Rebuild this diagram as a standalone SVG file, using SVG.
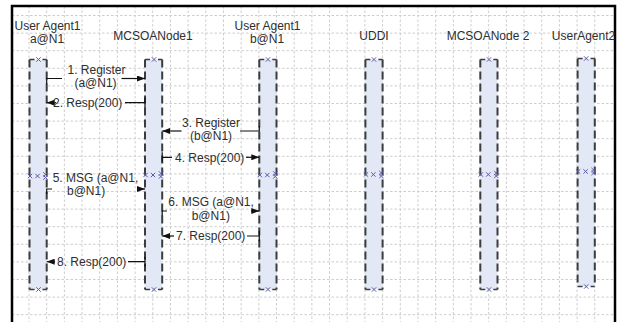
<svg xmlns="http://www.w3.org/2000/svg" width="618" height="322" viewBox="0 0 618 322">
<style>
.grid{stroke:#cdcdcd;stroke-width:1;stroke-dasharray:2.5 2;fill:none}
.fill{fill:#e2e8f6;stroke:none}
.lb{stroke:#3c3c3c;stroke-width:2;stroke-dasharray:8 4;fill:none}
.cap{stroke:#3c3c3c;stroke-width:1.5;fill:none}
.xm{stroke:#5a5aa8;stroke-width:1;fill:none}
.msg{stroke:#111;stroke-width:1.2;fill:none}
.arr{stroke:#111;stroke-width:1.2;fill:none;marker-end:url(#ah)}
text{font-family:"Liberation Sans",Arial,sans-serif;font-size:12px;fill:#2e2e2e}
.c{text-anchor:middle}
</style>
<defs>
<marker id="ah" viewBox="0 0 8 6" refX="8" refY="3" markerWidth="8" markerHeight="6" markerUnits="userSpaceOnUse" orient="auto">
<path d="M0,0 L8,3 L0,6 z" fill="#111"/>
</marker>
<path id="x" class="xm" d="M-2.2,-2.2 L2.2,2.2 M-2.2,2.2 L2.2,-2.2"/>
<g id="xx"><use href="#x" y="-1.5"/><use href="#x" y="1.5"/></g>
</defs>
<rect x="0" y="0" width="618" height="322" fill="#fff"/>
<g id="grid">
<path class="grid" d="M29,6V322M46.68,6V322M64.36,6V322M82.04,6V322M99.72,6V322M117.4,6V322M135.08,6V322M152.76,6V322M170.44,6V322M188.12,6V322M205.8,6V322M223.48,6V322M241.16,6V322M258.84,6V322M276.52,6V322M294.2,6V322M311.88,6V322M329.56,6V322M347.24,6V322M364.92,6V322M382.6,6V322M400.28,6V322M417.96,6V322M435.64,6V322M453.32,6V322M471,6V322M488.68,6V322M506.36,6V322M524.04,6V322M541.72,6V322M559.4,6V322M577.08,6V322M594.76,6V322"/>
<path class="grid" d="M12,15.5H615M12,33.1H615M12,50.7H615M12,68.3H615M12,85.9H615M12,103.5H615M12,121.1H615M12,138.7H615M12,156.3H615M12,173.9H615M12,191.5H615M12,209.1H615M12,226.7H615M12,244.3H615M12,261.9H615M12,279.5H615M12,297.1H615M12,314.7H615"/>
</g>
<rect x="12" y="6" width="603" height="330" fill="none" stroke="#000" stroke-width="2.5"/>

<g id="ua1">
<rect class="fill" x="29" y="59.5" width="17.7" height="230"/>
<path class="lb" d="M29.5,59.5V289.5M46.7,59.5V289.5"/>
<path class="cap" d="M29.5,59.5H34.5M42.5,59.5H46.7M29.5,289.5H34.5M42.5,289.5H46.7"/>
<use href="#x" x="38.5" y="59.5"/><use href="#x" x="38.5" y="289.5"/>
<use href="#x" x="30" y="176"/><use href="#x" x="37.5" y="176"/><use href="#xx" x="45.5" y="176"/>
<text class="c" x="47.5" y="29.5">User Agent1</text>
<text class="c" x="47" y="43">a@N1</text>
</g>

<g id="mcsoa1">
<rect class="fill" x="144.5" y="59.5" width="17.7" height="230"/>
<path class="lb" d="M145,59.5V289.5M162.2,59.5V289.5"/>
<path class="cap" d="M145,59.5H150M158,59.5H162.2M145,289.5H150M158,289.5H162.2"/>
<use href="#x" x="154" y="59.5"/><use href="#x" x="154" y="289.5"/>
<use href="#x" x="145.5" y="175"/><use href="#x" x="153" y="175"/><use href="#xx" x="161" y="175"/>
<text class="c" x="153" y="39.5">MCSOANode1</text>
</g>

<g id="uab">
<rect class="fill" x="258.8" y="59.5" width="17.7" height="230"/>
<path class="lb" d="M259.3,59.5V289.5M276.5,59.5V289.5"/>
<path class="cap" d="M259.3,59.5H264.3M272.3,59.5H276.5M259.3,289.5H264.3M272.3,289.5H276.5"/>
<use href="#x" x="268" y="59.5"/><use href="#x" x="268" y="289.5"/>
<use href="#x" x="259.8" y="175"/><use href="#x" x="267.3" y="175"/><use href="#xx" x="275.3" y="175"/>
<text class="c" x="267.5" y="29.5">User Agent1</text>
<text class="c" x="267" y="43">b@N1</text>
</g>

<g id="uddi">
<rect class="fill" x="364.9" y="59.5" width="17.7" height="230"/>
<path class="lb" d="M365.4,59.5V289.5M382.6,59.5V289.5"/>
<path class="cap" d="M365.4,59.5H370.4M378.4,59.5H382.6M365.4,289.5H370.4M378.4,289.5H382.6"/>
<use href="#x" x="374" y="59.5"/><use href="#x" x="374" y="289.5"/>
<use href="#x" x="365.9" y="174.5"/><use href="#x" x="373.4" y="174.5"/><use href="#xx" x="381.4" y="174.5"/>
<text class="c" x="374" y="39.5">UDDI</text>
</g>

<g id="mcsoa2">
<rect class="fill" x="479.8" y="59.5" width="17.7" height="230"/>
<path class="lb" d="M480.3,59.5V289.5M497.5,59.5V289.5"/>
<path class="cap" d="M480.3,59.5H485.3M493.3,59.5H497.5M480.3,289.5H485.3M493.3,289.5H497.5"/>
<use href="#x" x="489" y="59.5"/><use href="#x" x="489" y="289.5"/>
<use href="#x" x="480.8" y="174.5"/><use href="#x" x="488.3" y="174.5"/><use href="#xx" x="496.3" y="174.5"/>
<text class="c" x="488" y="39.5">MCSOANode 2</text>
</g>

<g id="ua2">
<rect class="fill" x="577.1" y="58.5" width="17.7" height="228"/>
<path class="lb" d="M577.6,58.5V286.5M594.8,58.5V286.5"/>
<path class="cap" d="M577.6,58.5H582.6M590.6,58.5H594.8M577.6,286.5H582.6M590.6,286.5H594.8"/>
<use href="#x" x="586.2" y="58.5"/><use href="#x" x="586.2" y="286.5"/>
<use href="#x" x="578.1" y="171.5"/><use href="#x" x="585.6" y="171.5"/><use href="#xx" x="593.6" y="171.5"/>
<text class="c" x="583.5" y="39.5">UserAgent2</text>
</g>

<g id="connectors">
<path class="msg" d="M46.7,84V78.5H62"/>
<path class="arr" d="M121.5,78.5H145"/>
<path class="msg" d="M125,102.7H145M145,97.7V107.7"/>
<path class="arr" d="M56,102.7H46.7"/>
<path class="msg" d="M259.3,126V131H240"/>
<path class="arr" d="M181.5,131H162.2"/>
<path class="msg" d="M162.2,152.3V162.3M162.2,157.3H172"/>
<path class="arr" d="M246,157.3H259.3"/>
<path class="msg" d="M46.7,194V189H52"/>
<path class="arr" d="M139,189H145"/>
<path class="msg" d="M162.2,216V211H167"/>
<path class="arr" d="M251,211H259.3"/>
<path class="msg" d="M247,236H259.3M259.3,231V241"/>
<path class="arr" d="M174,236H162.2"/>
<path class="msg" d="M128,261.7H145M145,256.7V266.7"/>
<path class="arr" d="M55,261.7H46.7"/>
</g>
<g id="labels">
<text class="c" x="96.5" y="74">1. Register</text>
<text class="c" x="95.5" y="87">(a@N1)</text>
<text x="53" y="107">2. Resp(200)</text>
<text class="c" x="211" y="126.7">3. Register</text>
<text class="c" x="211" y="140">(b@N1)</text>
<text x="175" y="161.6">4. Resp(200)</text>
<text x="52.7" y="182">5. MSG (a@N1,</text>
<text x="67" y="195">b@N1)</text>
<text x="168.3" y="206">6. MSG (a@N1,</text>
<text x="191.7" y="219.5">b@N1)</text>
<text x="176" y="240.3">7. Resp(200)</text>
<text x="57" y="266">8. Resp(200)</text>
</g>
</svg>
